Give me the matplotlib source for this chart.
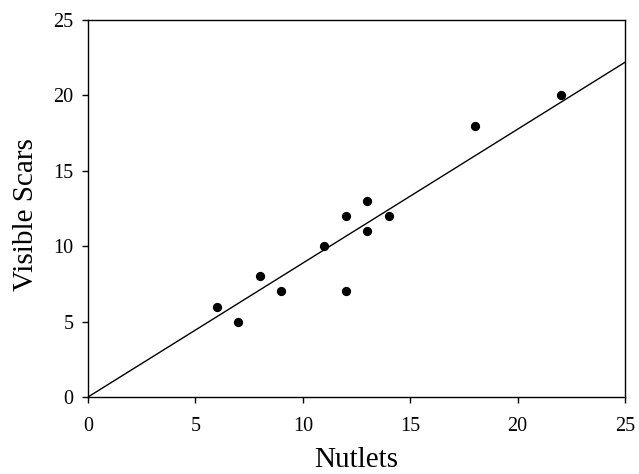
import matplotlib
matplotlib.use("Agg")
import matplotlib.pyplot as plt
import numpy as np

plt.rcParams.update({
    "font.family": ["Liberation Serif", "DejaVu Serif"],
    "font.size": 14,
})

# data
nutlets = [6, 7, 8, 9, 11, 12, 12, 13, 13, 14, 18, 22]
scars = [6, 5, 8, 7, 10, 12, 7, 13, 11, 12, 18, 20]
fit_slope = 0.888  # regression through origin
fit_x = [0, 25]

fig = plt.figure(figsize=(6.39, 4.74), dpi=100)
ax = fig.add_axes([0.1377, 0.1624, 0.8405, 0.7954])

ax.scatter(nutlets, scars, s=32, color="black", zorder=3)
ax.plot(fit_x, [fit_slope * x for x in fit_x], color="black", linewidth=1.0)

ax.set_xlim(0, 25)
ax.set_ylim(0, 25)
ax.set_xticks(np.arange(0, 26, 5))
ax.set_yticks(np.arange(0, 26, 5))
ax.tick_params(axis="x", direction="out", length=4.3, width=1, labelsize=14.5, pad=10)
ax.tick_params(axis="y", direction="out", length=4.3, width=1, labelsize=14.5, pad=6)
for s in ax.spines.values():
    s.set_linewidth(1.0)

ax.set_xlabel("Nutlets", fontsize=21, labelpad=8)
ax.set_ylabel("Visible Scars", fontsize=21)
ax.yaxis.set_label_coords(-0.091, 0.483)

fig.savefig("out.png", dpi=100)
